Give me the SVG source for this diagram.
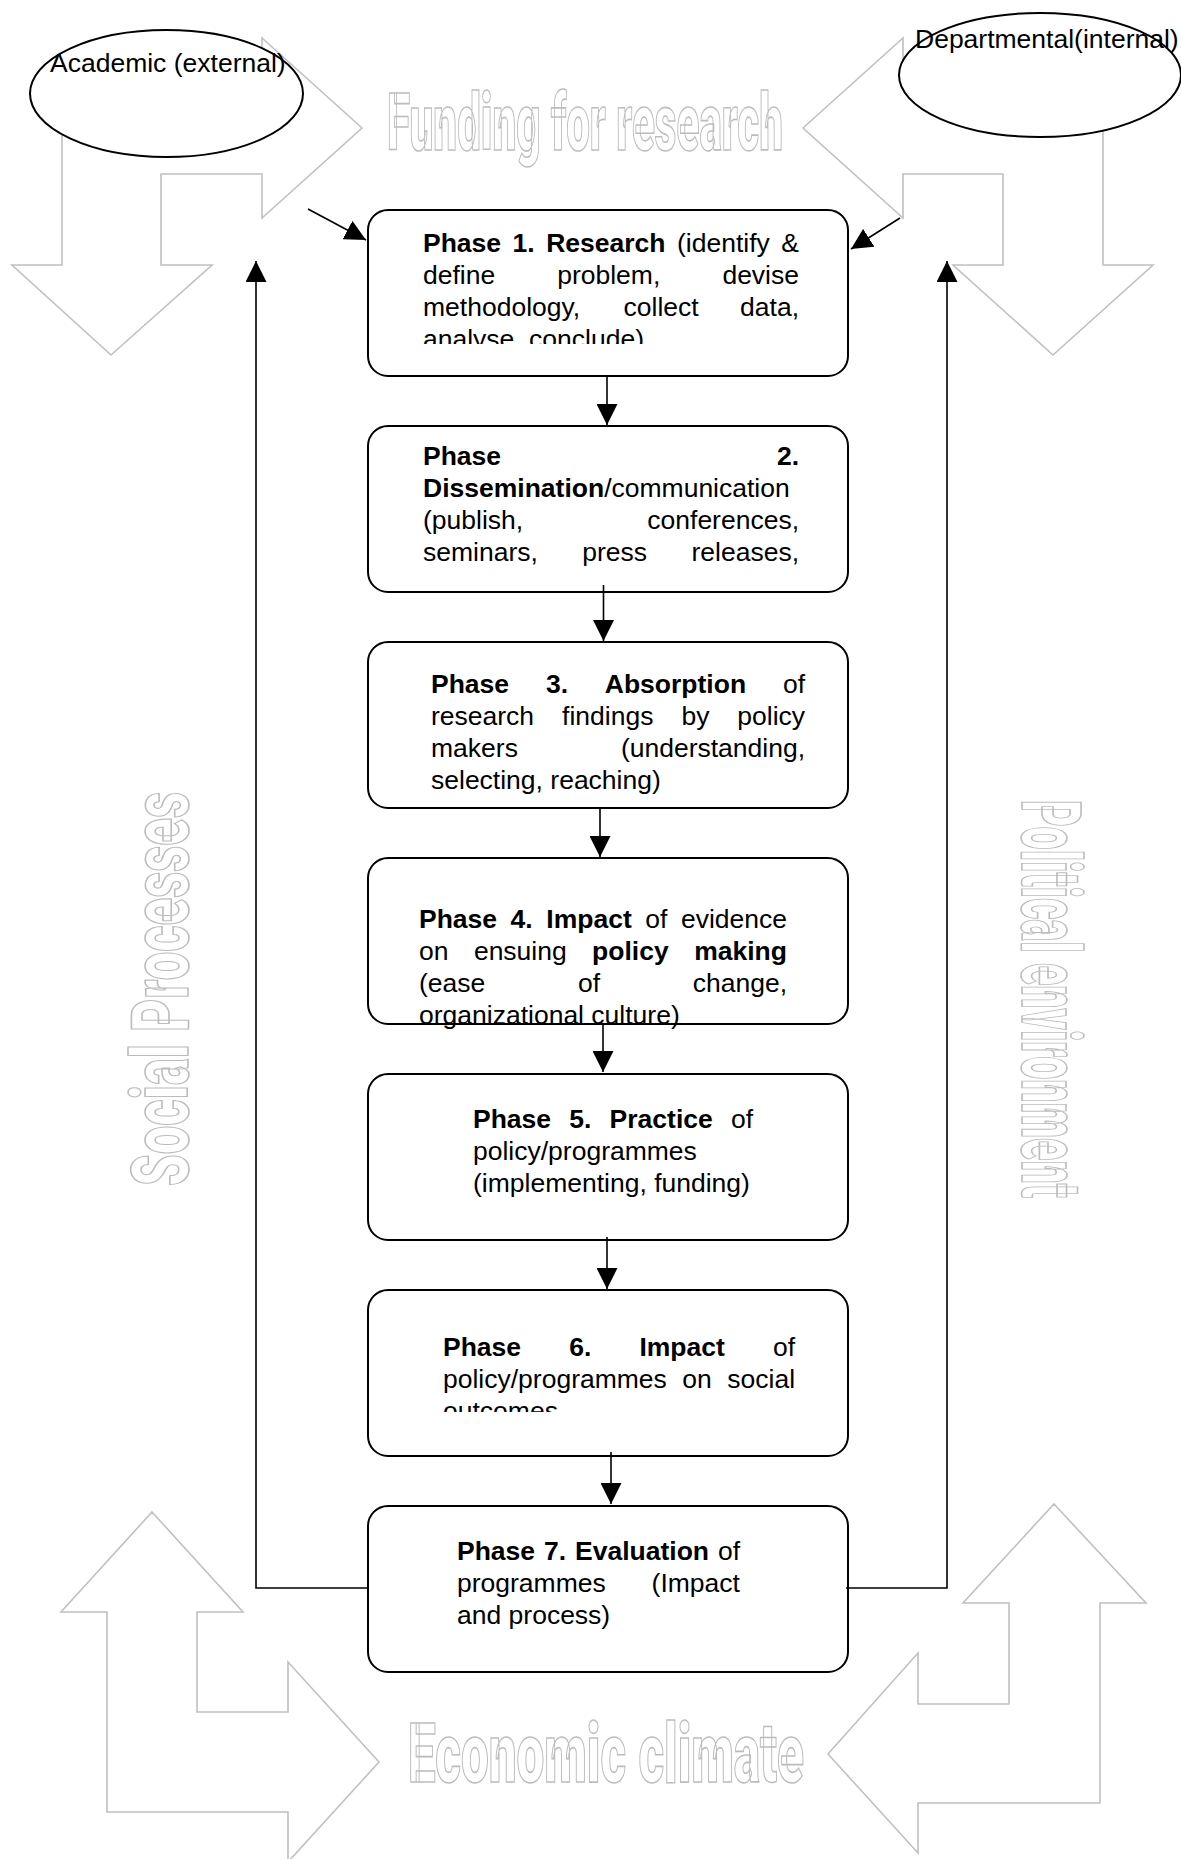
<svg xmlns="http://www.w3.org/2000/svg" width="1181" height="1859" viewBox="0 0 1181 1859">
<style>
.bg{fill:#fff}
.ga{fill:#fff;stroke:#c0c0c0;stroke-width:1.6}
.wa{font-family:Roboto,Lato,"Liberation Sans",Arial,sans-serif;font-weight:900;fill:#fff;stroke:#bcbcbc;stroke-width:1.6}
.el{fill:#fff;stroke:#000;stroke-width:2}
.box{fill:#fff;stroke:#000;stroke-width:2}
.t{font-family:"Liberation Sans",Arial,sans-serif;font-size:26.5px;fill:#000}
.b{font-weight:bold}
.c{fill:none;stroke:#000;stroke-width:1.6}
</style>
<defs>
<marker id="ah" markerUnits="userSpaceOnUse" markerWidth="21" markerHeight="21" viewBox="0 0 20 20" refX="20" refY="10" orient="auto">
<path d="M0,0 L20,10 L0,20 z" fill="#000"/>
</marker>
<clipPath id="clip1"><rect x="368" y="210" width="480" height="134"/></clipPath>
<clipPath id="clip6"><rect x="368" y="1290" width="480" height="122"/></clipPath>
</defs>
<rect class="bg" x="0" y="0" width="1181" height="1859"/>

<g id="background-arrows">
<polygon class="ga" points="362,128 262,38 262,82 62,82 62,265 12,265 111,355 212,265 161,265 161,174 262,174 262,218"/>
<polygon class="ga" points="803,128 903,38 903,82 1103,82 1103,265 1153,265 1053,355 953,265 1003,265 1003,174 903,174 903,218"/>
<polygon class="ga" points="152,1512 243,1612 197,1612 197,1712 288,1712 288,1662 379,1762 288,1862 288,1812 107,1812 107,1612 61,1612"/>
<polygon class="ga" points="1054,1504 1146,1603 1100,1603 1100,1803 918,1803 918,1853 828,1754 918,1653 918,1704 1009,1704 1009,1603 963,1603"/>
</g>

<g id="context-labels">
<text class="wa" x="387" y="150" font-size="80" textLength="396" lengthAdjust="spacingAndGlyphs">Funding for research</text>
<text class="wa" x="408" y="1782" font-size="84" textLength="396" lengthAdjust="spacingAndGlyphs">Economic climate</text>
<text class="wa" transform="translate(188,1186) rotate(-90)" font-size="80" textLength="394" lengthAdjust="spacingAndGlyphs">Social Processes</text>
<text class="wa" transform="translate(1022,800) rotate(90)" font-size="84" textLength="398" lengthAdjust="spacingAndGlyphs">Political environment</text>
</g>

<g id="academic">
<ellipse class="el" cx="166.5" cy="93.5" rx="136.5" ry="63.5"/>
<text class="t" x="50" y="72">Academic (external)</text>
</g>

<g id="departmental">
<ellipse class="el" cx="1040" cy="75" rx="141" ry="62"/>
<text class="t" x="915" y="48">Departmental(internal)</text>
</g>

<g id="phase1">
<rect class="box" x="368" y="210" width="480" height="166" rx="20"/>
<text class="t" clip-path="url(#clip1)">
<tspan class="b" x="423" y="252">Phase</tspan><tspan class="b" x="512.6" y="252">1.</tspan><tspan class="b" x="546.2" y="252">Research</tspan><tspan x="677" y="252">(identify</tspan><tspan x="781.3" y="252">&amp;</tspan>
<tspan x="423" y="284">define</tspan><tspan x="557.2" y="284">problem,</tspan><tspan x="722.4" y="284">devise</tspan>
<tspan x="423" y="316">methodology,</tspan><tspan x="623.5" y="316">collect</tspan><tspan x="740.1" y="316">data,</tspan>
<tspan x="423" y="348">analyse, conclude)</tspan>
</text>
</g>

<g id="phase2">
<rect class="box" x="368" y="426" width="480" height="166" rx="20"/>
<text class="t">
<tspan class="b" x="423" y="465">Phase</tspan><tspan class="b" x="776.9" y="465">2.</tspan>
<tspan class="b" x="423" y="497">Dissemination</tspan><tspan>/communication</tspan>
<tspan x="423" y="529">(publish,</tspan><tspan x="647.3" y="529">conferences,</tspan>
<tspan x="423" y="561">seminars,</tspan><tspan x="582.3" y="561">press</tspan><tspan x="691.5" y="561">releases,</tspan>
</text>
</g>

<g id="phase3">
<rect class="box" x="368" y="642" width="480" height="166" rx="20"/>
<text class="t">
<tspan class="b" x="431" y="693">Phase</tspan><tspan class="b" x="545.9" y="693">3.</tspan><tspan class="b" x="604.8" y="693">Absorption</tspan><tspan x="782.9" y="693">of</tspan>
<tspan x="431" y="725">research</tspan><tspan x="562.1" y="725">findings</tspan><tspan x="681.4" y="725">by</tspan><tspan x="737.3" y="725">policy</tspan>
<tspan x="431" y="757">makers</tspan><tspan x="620.9" y="757">(understanding,</tspan>
<tspan x="431" y="789">selecting, reaching)</tspan>
</text>
</g>

<g id="phase4">
<rect class="box" x="368" y="858" width="480" height="166" rx="20"/>
<text class="t">
<tspan class="b" x="419" y="928">Phase</tspan><tspan class="b" x="510.6" y="928">4.</tspan><tspan class="b" x="546.3" y="928">Impact</tspan><tspan x="645.2" y="928">of</tspan><tspan x="680.9" y="928">evidence</tspan>
<tspan x="419" y="960">on</tspan><tspan x="473.9" y="960">ensuing</tspan><tspan class="b" x="592.1" y="960">policy</tspan><tspan class="b" x="694.2" y="960">making</tspan>
<tspan x="419" y="992">(ease</tspan><tspan x="577.9" y="992">of</tspan><tspan x="692.7" y="992">change,</tspan>
<tspan x="419" y="1024">organizational culture)</tspan>
</text>
</g>

<g id="phase5">
<rect class="box" x="368" y="1074" width="480" height="166" rx="20"/>
<text class="t">
<tspan class="b" x="473" y="1128">Phase</tspan><tspan class="b" x="569.3" y="1128">5.</tspan><tspan class="b" x="609.6" y="1128">Practice</tspan><tspan x="730.9" y="1128">of</tspan>
<tspan x="473" y="1160">policy/programmes</tspan>
<tspan x="473" y="1192">(implementing, funding)</tspan>
</text>
</g>

<g id="phase6">
<rect class="box" x="368" y="1290" width="480" height="166" rx="20"/>
<text class="t" clip-path="url(#clip6)">
<tspan class="b" x="443" y="1356">Phase</tspan><tspan class="b" x="569.2" y="1356">6.</tspan><tspan class="b" x="639.4" y="1356">Impact</tspan><tspan x="772.9" y="1356">of</tspan>
<tspan x="443" y="1388">policy/programmes</tspan><tspan x="682.3" y="1388">on</tspan><tspan x="727.3" y="1388">social</tspan>
<tspan x="443" y="1420">outcomes</tspan>
</text>
</g>

<g id="phase7">
<rect class="box" x="368" y="1506" width="480" height="166" rx="20"/>
<text class="t">
<tspan class="b" x="457" y="1560">Phase</tspan><tspan class="b" x="544" y="1560">7.</tspan><tspan class="b" x="575" y="1560">Evaluation</tspan><tspan x="717.9" y="1560">of</tspan>
<tspan x="457" y="1592">programmes</tspan><tspan x="651.6" y="1592">(Impact</tspan>
<tspan x="457" y="1624">and process)</tspan>
</text>
</g>

<g id="connectors">
<line class="c" x1="308" y1="209" x2="366" y2="240" marker-end="url(#ah)"/>
<line class="c" x1="900" y1="218" x2="851" y2="249" marker-end="url(#ah)"/>
<line class="c" x1="607" y1="376" x2="607" y2="425" marker-end="url(#ah)"/>
<line class="c" x1="603.5" y1="585" x2="603.5" y2="641" marker-end="url(#ah)"/>
<line class="c" x1="600" y1="808" x2="600" y2="857" marker-end="url(#ah)"/>
<line class="c" x1="603" y1="1024" x2="603" y2="1072" marker-end="url(#ah)"/>
<line class="c" x1="607" y1="1237" x2="607" y2="1289" marker-end="url(#ah)"/>
<line class="c" x1="611" y1="1452" x2="611" y2="1504" marker-end="url(#ah)"/>
<polyline class="c" points="368,1588 256,1588 256,261" marker-end="url(#ah)"/>
<polyline class="c" points="846,1588 947,1588 947,261" marker-end="url(#ah)"/>
</g>
</svg>
